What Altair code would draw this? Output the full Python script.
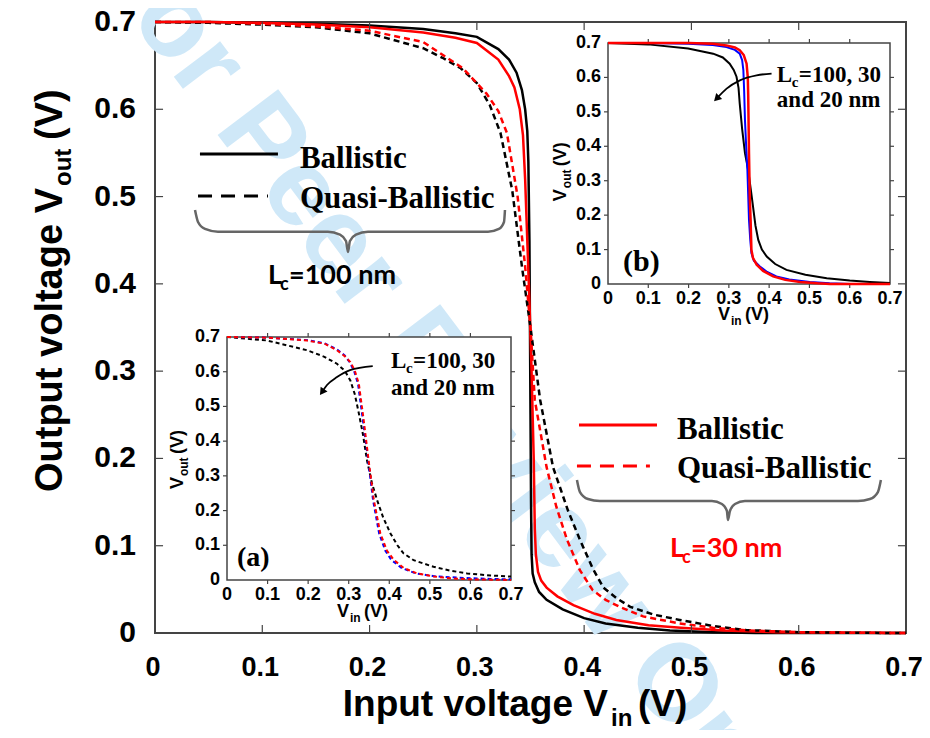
import altair as alt
import pandas as pd

# ---------------- main panel: Vout vs Vin ----------------
vin_bal_100 = [0, 0.05, 0.10, 0.15, 0.20, 0.25, 0.28, 0.30, 0.32, 0.33, 0.337, 0.342, 0.345, 0.347, 0.348, 0.349,
               0.3495, 0.350, 0.3505, 0.351, 0.352, 0.354, 0.358, 0.365, 0.38, 0.40, 0.42, 0.45, 0.48, 0.52, 0.56, 0.70]
vout_bal_100 = [0.700, 0.700, 0.699, 0.698, 0.696, 0.692, 0.687, 0.683, 0.669, 0.657, 0.642, 0.622, 0.600, 0.575, 0.54,
                0.45, 0.35, 0.25, 0.15, 0.09, 0.068, 0.058, 0.047, 0.038, 0.027, 0.017, 0.011, 0.006, 0.003, 0.001, 0, 0]

vin_bal_30 = [0, 0.05, 0.10, 0.15, 0.20, 0.25, 0.28, 0.30, 0.32, 0.33, 0.335, 0.340, 0.343, 0.345, 0.347, 0.349,
              0.351, 0.353, 0.354, 0.355, 0.357, 0.360, 0.365, 0.375, 0.39, 0.41, 0.43, 0.46, 0.49, 0.53, 0.58, 0.70]
vout_bal_30 = [0.700, 0.700, 0.699, 0.697, 0.694, 0.688, 0.682, 0.676, 0.657, 0.638, 0.625, 0.600, 0.570, 0.520, 0.450,
               0.380, 0.300, 0.200, 0.120, 0.090, 0.070, 0.060, 0.052, 0.042, 0.032, 0.022, 0.015, 0.009, 0.006, 0.003,
               0.001, 0]

vin_qb_100 = [0, 0.05, 0.10, 0.15, 0.20, 0.25, 0.268, 0.285, 0.30, 0.312, 0.322, 0.333, 0.342, 0.350, 0.359, 0.371,
              0.385, 0.396, 0.408, 0.418, 0.430, 0.443, 0.465, 0.489, 0.52, 0.551, 0.60, 0.65, 0.70]
vout_qb_100 = [0.700, 0.699, 0.697, 0.694, 0.687, 0.670, 0.659, 0.647, 0.630, 0.605, 0.573, 0.507, 0.420, 0.350, 0.267,
               0.190, 0.140, 0.107, 0.074, 0.052, 0.040, 0.030, 0.021, 0.015, 0.008, 0.0034, 0.001, 0.0003, 0]

vin_qb_30 = [0, 0.05, 0.10, 0.15, 0.20, 0.25, 0.287, 0.309, 0.320, 0.328, 0.338, 0.345, 0.350, 0.354, 0.365, 0.374,
             0.384, 0.396, 0.408, 0.420, 0.433, 0.455, 0.489, 0.52, 0.551, 0.60, 0.65, 0.70]
vout_qb_30 = [0.700, 0.700, 0.698, 0.695, 0.690, 0.677, 0.647, 0.618, 0.598, 0.573, 0.500, 0.420, 0.350, 0.267, 0.190,
              0.145, 0.107, 0.072, 0.049, 0.038, 0.030, 0.019, 0.011, 0.006, 0.003, 0.001, 0.0003, 0]

# ---------------- inset (a): quasi-ballistic, Lc = 100, 30, 20 nm ----------------
a_vin_100 = [0, 0.0986, 0.197, 0.24, 0.271, 0.29, 0.304, 0.315, 0.325, 0.335, 0.345, 0.357, 0.37, 0.385, 0.403, 0.42,
             0.435, 0.46, 0.509, 0.55, 0.592, 0.65, 0.70]
a_vout_100 = [0.700, 0.690, 0.662, 0.643, 0.623, 0.603, 0.575, 0.535, 0.480, 0.420, 0.345, 0.280, 0.230, 0.180, 0.134,
              0.100, 0.077, 0.057, 0.038, 0.027, 0.019, 0.013, 0.010]
a_vin_30 = [0, 0.10, 0.197, 0.24, 0.271, 0.29, 0.304, 0.315, 0.325, 0.337, 0.349, 0.362, 0.378, 0.394, 0.411, 0.435,
            0.468, 0.51, 0.551, 0.60, 0.65, 0.70]
a_vout_30 = [0.700, 0.698, 0.690, 0.681, 0.662, 0.645, 0.628, 0.603, 0.565, 0.460, 0.345, 0.230, 0.134, 0.085, 0.058,
             0.035, 0.019, 0.010, 0.005, 0.002, 0.001, 0]
a_vin_20 = [0, 0.10, 0.197, 0.24, 0.271, 0.29, 0.302, 0.313, 0.323, 0.335, 0.348, 0.36, 0.375, 0.39, 0.405, 0.43,
            0.465, 0.51, 0.551, 0.60, 0.65, 0.70]
a_vout_20 = [0.700, 0.698, 0.691, 0.682, 0.664, 0.647, 0.628, 0.603, 0.565, 0.460, 0.345, 0.230, 0.134, 0.085, 0.058,
             0.035, 0.019, 0.011, 0.008, 0.005, 0.003, 0.002]

# ---------------- inset (b): ballistic, Lc = 100, 30, 20 nm ----------------
b_vin_100 = [0, 0.0994, 0.199, 0.261, 0.285, 0.302, 0.312, 0.319, 0.324, 0.327, 0.333, 0.340, 0.348, 0.355, 0.360,
             0.366, 0.373, 0.382, 0.394, 0.415, 0.443, 0.49, 0.543, 0.60, 0.65, 0.70]
b_vout_100 = [0.700, 0.696, 0.684, 0.669, 0.658, 0.640, 0.622, 0.602, 0.570, 0.524, 0.450, 0.380, 0.331, 0.270, 0.225,
              0.170, 0.128, 0.100, 0.080, 0.058, 0.041, 0.027, 0.017, 0.010, 0.006, 0.003]
b_vin_30 = [0, 0.10, 0.199, 0.26, 0.294, 0.315, 0.327, 0.333, 0.336, 0.338, 0.340, 0.343, 0.346, 0.348, 0.350, 0.353,
            0.356, 0.362, 0.377, 0.395, 0.418, 0.45, 0.501, 0.55, 0.60, 0.70]
b_vout_30 = [0.700, 0.700, 0.698, 0.694, 0.688, 0.680, 0.669, 0.650, 0.621, 0.560, 0.476, 0.400, 0.331, 0.260, 0.186,
             0.130, 0.090, 0.068, 0.051, 0.035, 0.022, 0.013, 0.006, 0.002, 0, 0]
b_vin_20 = [0, 0.10, 0.20, 0.26, 0.294, 0.315, 0.327, 0.337, 0.344, 0.347, 0.348, 0.350, 0.352, 0.354, 0.356, 0.36,
            0.369, 0.385, 0.41, 0.44, 0.477, 0.52, 0.551, 0.60, 0.70]
b_vout_20 = [0.700, 0.700, 0.700, 0.698, 0.693, 0.687, 0.679, 0.665, 0.640, 0.600, 0.550, 0.380, 0.250, 0.186, 0.099,
             0.075, 0.056, 0.038, 0.022, 0.012, 0.006, 0.002, 0, 0, 0]

# ---------------- ticks ----------------
tick_vals = [0, 0.1, 0.2, 0.3, 0.4, 0.5, 0.6, 0.7]
tick_text = ["0", "0.1", "0.2", "0.3", "0.4", "0.5", "0.6", "0.7"]
inner_ticks = [0.1, 0.2, 0.3, 0.4, 0.5, 0.6]

# ---------------- annotation shapes (in data units of each panel) ----------------
brace1_x = [0.0373, 0.0401, 0.0466, 0.0587, 0.1612, 0.1724, 0.1780, 0.1799, 0.1817, 0.1873, 0.1985, 0.3104, 0.3206,
            0.3253, 0.3262]
brace1_y = [0.4846, 0.4709, 0.4629, 0.4597, 0.4597, 0.4563, 0.4491, 0.4365, 0.4491, 0.4563, 0.4597, 0.4597, 0.4629,
            0.4709, 0.4846]
brace2_x = [0.3933, 0.3961, 0.4036, 0.4147, 0.5191, 0.5284, 0.5331, 0.5340, 0.5359, 0.5406, 0.5499, 0.6552, 0.6664,
            0.6738, 0.6766]
brace2_y = [0.1753, 0.1615, 0.1535, 0.1512, 0.1512, 0.1478, 0.1398, 0.1295, 0.1398, 0.1478, 0.1512, 0.1512, 0.1535,
            0.1615, 0.1753]
arrow_a_x = [0.2342, 0.2465, 0.2712, 0.3032, 0.3592]
arrow_a_y = [0.5414, 0.5616, 0.5846, 0.6048, 0.6163]
arrow_b_x = [0.2696, 0.2944, 0.3274, 0.3688, 0.4060]
arrow_b_y = [0.5385, 0.5675, 0.5916, 0.6061, 0.6110]

SANS = "Liberation Sans"
SERIF = "Liberation Serif"
CAL = "Lato"
RED = "#ff0000"
BLUE = "#0000ff"
FRAME = "#444444"

xs_m = alt.Scale(domain=[0, 0.7], nice=False, zero=False)
ys_m = alt.Scale(domain=[0, 0.7], nice=False, zero=False)
xs_a = alt.Scale(domain=[0, 0.7], range=[72, 356], nice=False, zero=False)
ys_a = alt.Scale(domain=[0, 0.7], range=[558, 315], nice=False, zero=False)
xs_b = alt.Scale(domain=[0, 0.7], range=[453, 735], nice=False, zero=False)
ys_b = alt.Scale(domain=[0, 0.7], range=[262, 21], nice=False, zero=False)


def xy(xs, ys, xf="x", yf="y"):
    return dict(x=alt.X(f"{xf}:Q", scale=xs, axis=None), y=alt.Y(f"{yf}:Q", scale=ys, axis=None))


def curve(xv, yv, xs, ys, color, width=2.5, dash=None, interp=None):
    kw = dict(color=color, strokeWidth=width)
    if dash:
        kw["strokeDash"] = dash
    if interp:
        kw["interpolate"] = interp
    df = pd.DataFrame({"x": xv, "y": yv})
    return alt.Chart(df).mark_line(**kw).encode(**xy(xs, ys))


def segs(x1, y1, x2, y2, xs, ys, color, width=1.5, dash=None):
    kw = dict(color=color, strokeWidth=width)
    if dash:
        kw["strokeDash"] = dash
    df = pd.DataFrame({"x": x1, "y": y1, "x2": x2, "y2": y2})
    return alt.Chart(df).mark_rule(**kw).encode(**xy(xs, ys), x2="x2:Q", y2="y2:Q")


def texts(xv, yv, tv, xs, ys, **kw):
    df = pd.DataFrame({"x": xv, "y": yv, "t": tv})
    return alt.Chart(df).mark_text(**kw).encode(**xy(xs, ys), text="t:N")


def frame_ticks(xs, ys, dx, dy, outward, color=FRAME):
    n = len(inner_ticks)
    s = 1 if outward else -1
    return [
        segs(inner_ticks, [0] * n, inner_ticks, [-s * dy] * n, xs, ys, color, 1.2),
        segs(inner_ticks, [0.7] * n, inner_ticks, [0.7 + s * dy] * n, xs, ys, color, 1.2),
        segs([0] * n, inner_ticks, [-s * dx] * n, inner_ticks, xs, ys, color, 1.2),
        segs([0.7] * n, inner_ticks, [0.7 + s * dx] * n, inner_ticks, xs, ys, color, 1.2),
    ]


def tick_labels(xs, ys, size_x, size_y, pad_x, pad_y, shift_x=0):
    n = len(tick_vals)
    return [
        texts(tick_vals, [0] * n, tick_text, xs, ys, font=SANS, fontWeight="bold", fontSize=size_x,
              align="center", baseline="top", dy=pad_y, dx=shift_x, color="black"),
        texts([0] * n, tick_vals, tick_text, xs, ys, font=SANS, fontWeight="bold", fontSize=size_y,
              align="right", baseline="middle", dx=-pad_x, color="black"),
    ]


def sub_text(ax, ay, main, sub, tail, xs, ys, font, size, subsize, sub_dx, sub_dy, tail_dx, angle=0, color="black",
             weight="bold"):
    base = dict(font=font, fontWeight=weight, color=color, baseline="alphabetic")
    if angle:
        base["angle"] = angle
    out = [texts([ax], [ay], [main], xs, ys, align="right", fontSize=size, **base),
           texts([ax], [ay], [sub], xs, ys, align="left", fontSize=subsize, dx=sub_dx, dy=sub_dy, **base)]
    if tail:
        out.append(texts([ax], [ay], [tail], xs, ys, align="left", fontSize=size, dx=tail_dx, **base))
    return out


# ---------------- main layer ----------------
watermark = texts([0.2796], [0.2727], ["For Peer Review Only"], xs_m, ys_m, font=SANS, fontWeight="bold",
                  fontSize=110, angle=53, color="#cfe8f8", align="center", baseline="middle")

main_layers = [
    watermark,
    curve(vin_bal_100, vout_bal_100, xs_m, ys_m, "black", 2.5),
    curve(vin_bal_30, vout_bal_30, xs_m, ys_m, RED, 2.5),
    curve(vin_qb_100, vout_qb_100, xs_m, ys_m, "black", 2.5, dash=[6, 4]),
    curve(vin_qb_30, vout_qb_30, xs_m, ys_m, RED, 2.5, dash=[6, 4]),
]
main_layers += frame_ticks(xs_m, ys_m, 0.0075, 0.0092, outward=False)
main_layers += tick_labels(xs_m, ys_m, 27, 30, 19, 22, shift_x=-2)

# legend 1 (Lc = 100 nm)
main_layers += [
    segs([0.0419], [0.5488], [0.1146], [0.5488], xs_m, ys_m, "black", 3),
    segs([0.0401], [0.5007], [0.1053], [0.5007], xs_m, ys_m, "black", 3, dash=[14, 9]),
    texts([0.1351, 0.1351], [0.5327, 0.4869], ["Ballistic", "Quasi-Ballistic"], xs_m, ys_m, font=SERIF,
          fontWeight="bold", fontSize=31, align="left", baseline="alphabetic", color="black"),
    curve(brace1_x, brace1_y, xs_m, ys_m, "#666666", 2.5, interp="monotone"),
    texts([0.1053], [0.400], ["L"], xs_m, ys_m, font=CAL, fontWeight="bold", fontSize=27, align="left",
          baseline="alphabetic", color="black"),
    texts([0.1053], [0.400], ["c"], xs_m, ys_m, font=CAL, fontWeight="bold", fontSize=18, align="left",
          baseline="alphabetic", color="black", dx=12, dy=6),
    texts([0.1053], [0.400], ["=100 nm"], xs_m, ys_m, font=CAL, fontWeight="bold", fontSize=27, align="left",
          baseline="alphabetic", color="black", dx=21),
]
# legend 2 (Lc = 30 nm)
main_layers += [
    segs([0.3952], [0.2383], [0.4679], [0.2383], xs_m, ys_m, RED, 3),
    segs([0.3933], [0.1913], [0.4613], [0.1913], xs_m, ys_m, RED, 3, dash=[14, 9]),
    texts([0.4865, 0.4865], [0.2223, 0.1776], ["Ballistic", "Quasi-Ballistic"], xs_m, ys_m, font=SERIF,
          fontWeight="bold", fontSize=31, align="left", baseline="alphabetic", color="black"),
    curve(brace2_x, brace2_y, xs_m, ys_m, "#666666", 2.5, interp="monotone"),
    texts([0.4800], [0.0871], ["L"], xs_m, ys_m, font=CAL, fontWeight="bold", fontSize=27, align="left",
          baseline="alphabetic", color=RED),
    texts([0.4800], [0.0871], ["c"], xs_m, ys_m, font=CAL, fontWeight="bold", fontSize=18, align="left",
          baseline="alphabetic", color=RED, dx=12, dy=6),
    texts([0.4800], [0.0871], ["=30 nm"], xs_m, ys_m, font=CAL, fontWeight="bold", fontSize=27, align="left",
          baseline="alphabetic", color=RED, dx=21),
]
# axis titles with subscripts
main_layers += sub_text(0.4222, -0.0951, "Input voltage V", "in", "(V)", xs_m, ys_m, SANS, 37, 24, 3, 10, 30)
main_layers += sub_text(-0.0867, 0.5098, "Output voltage V", "out", "(V)", xs_m, ys_m, SANS, 38, 24, 2, 9, 48,
                        angle=270)
main = alt.layer(*main_layers)


# ---------------- insets ----------------
def inset(xs, ys, curves, px, py, ytitle_pos, xtitle_pos, ann_pos, arrow, arrow_angle, tag, tag_pos, tag_size):
    frame = alt.Chart(pd.DataFrame({"x": [0], "y": [0], "x2": [0.7], "y2": [0.7]})).mark_rect(
        fill="white", stroke=FRAME, strokeWidth=1.5).encode(**xy(xs, ys), x2="x2:Q", y2="y2:Q")
    layers = [frame]
    layers += frame_ticks(xs, ys, px * 4, py * 4, outward=True)
    layers += curves
    layers += tick_labels(xs, ys, 18, 18, 7, 6)
    layers += sub_text(ytitle_pos[0], ytitle_pos[1], "V", "out", "(V)", xs, ys, SANS, 18, 12, 1, 5, 23, angle=270)
    layers += sub_text(xtitle_pos[0], xtitle_pos[1], "V", "in", "(V)", xs, ys, SANS, 18, 12, 1, 5, 15)
    ax, ay1, ay2 = ann_pos
    base = dict(font=SERIF, fontWeight="bold", baseline="alphabetic", align="left", color="black")
    layers += [
        texts([ax], [ay1], ["L"], xs, ys, fontSize=23, **base),
        texts([ax], [ay1], ["c"], xs, ys, fontSize=15, dx=15, dy=5, **base),
        texts([ax], [ay1], ["=100, 30"], xs, ys, fontSize=23, dx=22, **base),
        texts([ax], [ay2], ["and 20 nm"], xs, ys, fontSize=23, **base),
    ]
    layers.append(curve(arrow[0], arrow[1], xs, ys, "black", 1.8, interp="monotone"))
    layers.append(alt.Chart(pd.DataFrame({"x": [arrow[0][0]], "y": [arrow[1][0]]})).mark_point(
        shape="triangle-up", filled=True, color="black", size=70, angle=arrow_angle, opacity=1).encode(**xy(xs, ys)))
    layers.append(texts([tag_pos[0]], [tag_pos[1]], [tag], xs, ys, font=SERIF, fontWeight="bold",
                        fontSize=tag_size, align="left", baseline="alphabetic", color="black"))
    return alt.layer(*layers)


inset_a = inset(
    xs_a, ys_a,
    [curve(a_vin_100, a_vout_100, xs_a, ys_a, "black", 2, dash=[4, 3]),
     curve(a_vin_20, a_vout_20, xs_a, ys_a, BLUE, 2, dash=[4, 3]),
     curve(a_vin_30, a_vout_30, xs_a, ys_a, RED, 2, dash=[4, 3])],
    0.002465, 0.00288,
    (-0.1085, 0.2966), (0.3007, -0.1066), (0.4043, 0.6106, 0.5328),
    (arrow_a_x, arrow_a_y), 215, "(a)", (0.0247, 0.0403), 28)

inset_b = inset(
    xs_b, ys_b,
    [curve(b_vin_100, b_vout_100, xs_b, ys_b, "black", 2),
     curve(b_vin_30, b_vout_30, xs_b, ys_b, BLUE, 2),
     curve(b_vin_20, b_vout_20, xs_b, ys_b, RED, 2.5)],
    0.00248, 0.0029,
    (-0.1042, 0.2755), (0.3026, -0.106), (0.4191, 0.5858, 0.5133),
    (arrow_b_x, arrow_b_y), 225, "(b)", (0.0372, 0.0377), 30)

chart = alt.layer(main, inset_a, inset_b).resolve_scale(x="independent", y="independent").properties(
    width=751, height=611,
    padding={"left": 147, "top": 14, "right": 16, "bottom": 97},
    autosize=alt.AutoSizeParams(type="none"),
    background="white",
).configure_view(stroke=FRAME, strokeWidth=2)

chart.save("out.html", embed_options={"renderer": "svg", "actions": False})
